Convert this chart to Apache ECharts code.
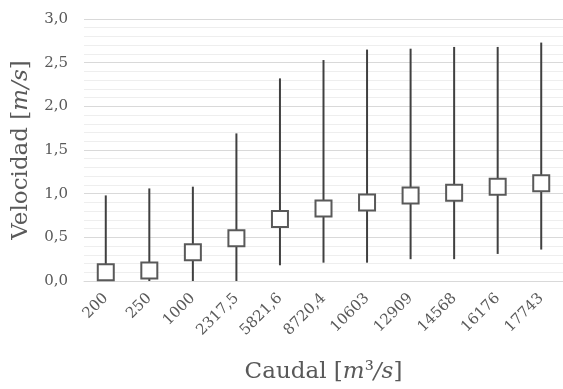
<!DOCTYPE html>
<html>
<head>
<meta charset="utf-8">
<script src="https://cdn.jsdelivr.net/npm/echarts@6/dist/echarts.min.js"></script>
<style>html,body{margin:0;padding:0;background:#fff;}#c{width:563px;height:389px;}</style>
</head>
<body>
<div id="c"></div>
<script>
const categories = ['200','250','1000','2317,5','5821,6','8720,4','10603','12909','14568','16176','17743'];
const minValues  = [0, 0, 0, 0, 0.18, 0.21, 0.21, 0.25, 0.25, 0.31, 0.36];
const maxValues  = [0.98, 1.06, 1.08, 1.69, 2.32, 2.53, 2.65, 2.66, 2.68, 2.68, 2.73];
const meanValues = [0.10, 0.12, 0.33, 0.49, 0.71, 0.83, 0.90, 0.98, 1.01, 1.08, 1.12];

const FONT = 'DejaVu Serif';
const chart = echarts.init(document.getElementById('c'), null, {renderer: 'canvas'});
chart.setOption({
  animation: false,
  grid: {left: 84, top: 19, width: 485, height: 262, containLabel: false},
  xAxis: {
    type: 'category',
    data: categories,
    boundaryGap: true,
    axisLine: {show: true, lineStyle: {color: '#d9d9d9', width: 1}},
    axisTick: {show: false},
    axisLabel: {rotate: 45, color: '#595959', fontFamily: FONT, fontSize: 15, margin: 15, interval: 0},
    name: 'Caudal [{i|m}³{i|/s}]',
    nameLocation: 'middle',
    nameGap: 80,
    nameTextStyle: {color: '#595959', fontFamily: FONT, fontSize: 23,
      rich: {i: {fontStyle: 'italic', fontFamily: FONT, fontSize: 23, color: '#595959'}}}
  },
  yAxis: {
    type: 'value',
    min: 0, max: 3, interval: 0.5,
    axisLine: {show: false},
    axisTick: {show: false},
    axisLabel: {color: '#595959', fontFamily: FONT, fontSize: 15, margin: 16,
      formatter: v => v.toFixed(1).replace('.', ',')},
    splitLine: {show: true, lineStyle: {color: '#d9d9d9', width: 1}},
    minorTick: {show: false, splitNumber: 5},
    minorSplitLine: {show: true, lineStyle: {color: '#eeeeee', width: 1}},
    name: 'Velocidad [{i|m/s}]',
    nameLocation: 'middle',
    nameGap: 51,
    nameTextStyle: {color: '#595959', fontFamily: FONT, fontSize: 23,
      rich: {i: {fontStyle: 'italic', fontFamily: FONT, fontSize: 23, color: '#595959'}}}
  },
  series: [
    {
      type: 'custom',
      data: categories.map((c, i) => [i, minValues[i], maxValues[i]]),
      encode: {x: 0, y: [1, 2]},
      renderItem: function (params, api) {
        const x = api.value(0);
        const p1 = api.coord([x, api.value(1)]);
        const p2 = api.coord([x, api.value(2)]);
        return {type: 'line', shape: {x1: p1[0], y1: p1[1], x2: p2[0], y2: p2[1]},
          style: {stroke: '#404040', lineWidth: 2}};
      },
      z: 2
    },
    {
      type: 'scatter',
      data: meanValues,
      symbol: 'rect',
      symbolSize: 16,
      itemStyle: {color: '#ffffff', borderColor: '#595959', borderWidth: 2, opacity: 1},
      z: 3
    }
  ]
});
</script>
</body>
</html>
